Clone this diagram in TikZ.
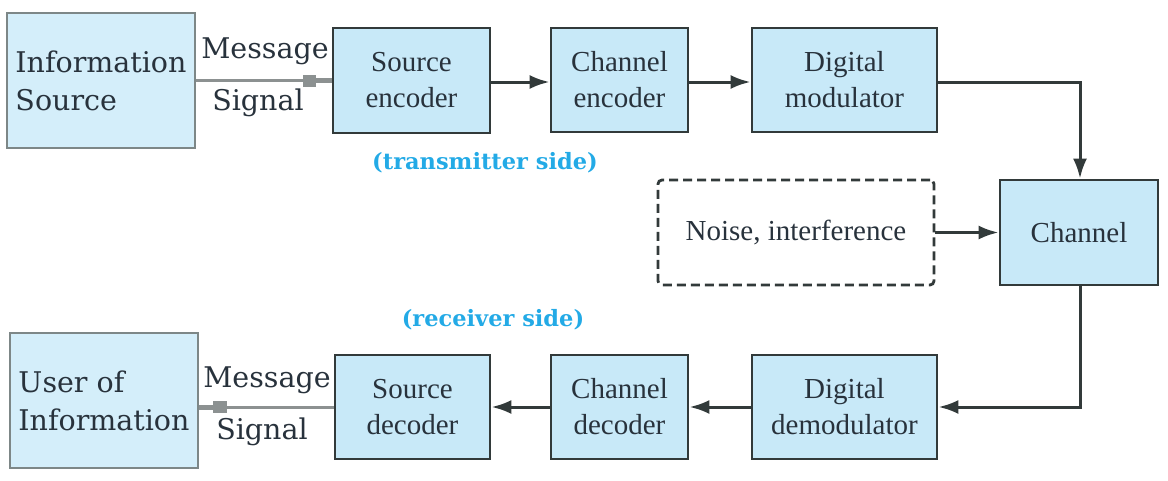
\documentclass[tikz,border=0pt]{standalone}
\usepackage{fontspec}
\setmainfont{DejaVu Serif}
\newfontfamily\boxfont{Liberation Serif}
\newfontfamily\lblfont{DejaVu Serif}
\usetikzlibrary{arrows.meta}
\definecolor{boxfill}{RGB}{200,233,248}
\definecolor{lboxfill}{RGB}{212,238,250}
\definecolor{boxline}{RGB}{50,58,58}
\definecolor{lboxline}{RGB}{125,135,135}
\definecolor{txt}{RGB}{40,50,60}
\definecolor{sidecol}{RGB}{35,170,230}
\definecolor{sigline}{RGB}{140,145,145}
\begin{document}
\begin{tikzpicture}[x=1pt,y=-1pt,
  blk/.style={draw=boxline,fill=boxfill,line width=2.8pt,inner sep=0pt,align=center,text=txt,
    font=\boxfont\fontsize{29}{36}\selectfont},
  lblk/.style={draw=lboxline,fill=lboxfill,line width=2.2pt,inner sep=0pt,align=left,text=txt,
    font=\fontsize{28.5}{38}\selectfont},
  noisebox/.style={draw=boxline,dashed,dash pattern=on 9pt off 5pt,line width=2.8pt,rounded corners=4pt,
    inner sep=0pt,align=center,text=txt,font=\boxfont\fontsize{29}{36}\selectfont},
  sig/.style={text=txt,font=\fontsize{28.5}{38}\selectfont,inner sep=0pt},
  side/.style={text=sidecol,font=\lblfont\bfseries\fontsize{22.5}{28}\selectfont,inner sep=0pt},
  arr/.style={draw=boxline,line width=3pt,-{Latex[length=20pt,width=14pt]}},
  sigl/.style={draw=sigline,line width=3pt},
  sigm/.style={fill=sigline,draw=none}
]
\useasboundingbox (0,0) rectangle (1168,480);
% transmitter row
\node[lblk,minimum width=188pt,minimum height=135pt] (isrc) at (101,80.5) {Information\\Source};
\node[blk,minimum width=157pt,minimum height=105pt] (senc) at (411.5,80.5) {Source\\encoder};
\node[blk,minimum width=137pt,minimum height=104pt] (cenc) at (619.5,80) {Channel\\encoder};
\node[blk,minimum width=185pt,minimum height=104pt] (dmod) at (844.5,80) {Digital\\modulator};
% channel row
\node[noisebox,minimum width=276pt,minimum height=105pt] (noise) at (796,232.5) {Noise, interference};
\node[blk,minimum width=158pt,minimum height=105pt] (chan) at (1079,232.5) {Channel};
% receiver row
\node[lblk,minimum width=188pt,minimum height=135pt] (user) at (104,400.5) {User of\\Information};
\node[blk,minimum width=155pt,minimum height=104pt] (sdec) at (412.5,407) {Source\\decoder};
\node[blk,minimum width=137pt,minimum height=104pt] (cdec) at (619.5,407) {Channel\\decoder};
\node[blk,minimum width=185pt,minimum height=104pt] (ddem) at (844.5,407) {Digital\\demodulator};
% labels
\node[sig] (m1) at (265,51) {Message};
\node[sig] (s1) at (258,103) {Signal};
\node[sig] (m2) at (267,380) {Message};
\node[sig] (s2) at (262,432) {Signal};
\node[side] (tx) at (485,163) {(transmitter side)};
\node[side] (rx) at (493,320) {(receiver side)};
% coordinates
\coordinate (c1) at (1080,82);
\coordinate (c2) at (1080,407);
% connectors
\draw[sigl] (isrc.east |- 0,80) -- (senc.west |- 0,80);
\fill[sigm] (303,75) rectangle (316,87);
\draw[sigline,line width=5pt] (316,80) -- (senc.west |- 0,80);
\draw[sigl] (sdec.west |- 0,407) -- (user.east |- 0,407);
\fill[sigm] (213,401) rectangle (227,413);
\draw[sigline,line width=5pt] (213,407) -- (user.east |- 0,407);
\draw[arr] (senc.east |- 0,82) -- (cenc.west |- 0,82);
\draw[arr] (cenc.east |- 0,82) -- (dmod.west |- 0,82);
\draw[arr] (dmod.east |- c1) -- (c1) -- (chan.north -| c1);
\draw[arr] (noise.east) -- (chan.west);
\draw[arr] (chan.south -| c2) -- (c2) -- (ddem.east |- c2);
\draw[arr] (ddem.west) -- (cdec.east);
\draw[arr] (cdec.west) -- (sdec.east);
\end{tikzpicture}
\end{document}
